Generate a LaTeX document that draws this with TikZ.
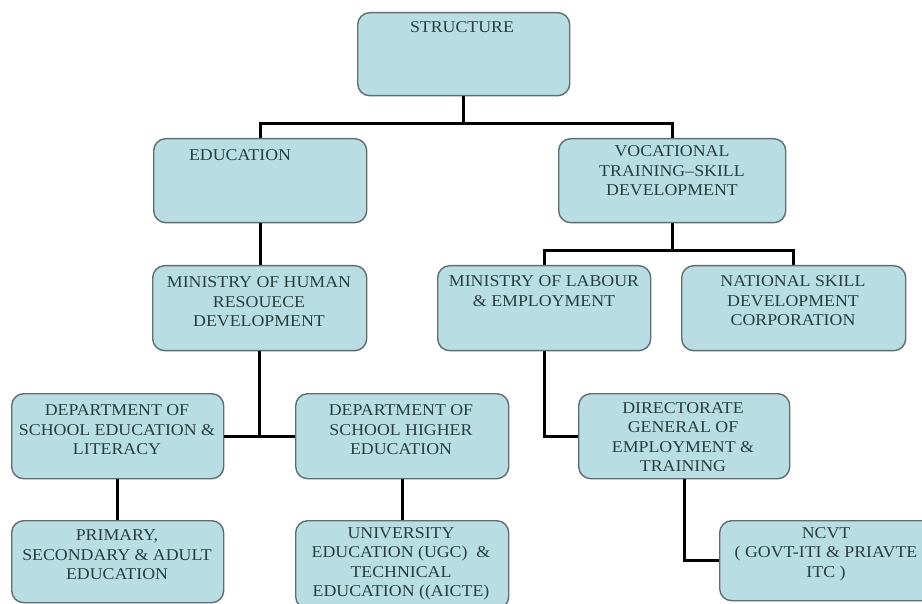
\documentclass[tikz,border=0pt]{standalone}
\usepackage{fontspec}
\setmainfont{Liberation Serif}[FakeStretch=1.08]
\definecolor{boxfill}{RGB}{184,222,228}
\definecolor{boxline}{RGB}{95,110,112}
\definecolor{txtcol}{RGB}{40,62,64}
\begin{document}
\begin{tikzpicture}[x=1pt,y=-1pt,
  box/.style={draw=boxline, line width=1.4pt, fill=boxfill, rounded corners=12pt,
    rectangle, inner sep=0pt, anchor=north west},
  txt/.style={text=txtcol, align=center, inner sep=0pt,
    font=\fontsize{16.5}{19.5}\selectfont},
  conn/.style={draw=black, line width=3pt}]
\useasboundingbox (0,0) rectangle (922,604);
\clip (0,0) rectangle (922,604);
\fill[white] (0,0) rectangle (922,604);

% boxes
\node[box, minimum width=212pt, minimum height=83pt] (struct) at (357,12) {};
\node[box, minimum width=213pt, minimum height=84pt] (edu) at (153,138) {};
\node[box, minimum width=227pt, minimum height=84pt] (voc) at (558,138) {};
\node[box, minimum width=214pt, minimum height=85pt] (mhrd) at (152,265) {};
\node[box, minimum width=213pt, minimum height=85pt] (mle) at (437,265) {};
\node[box, minimum width=224pt, minimum height=85pt] (nsdc) at (681,265) {};
\node[box, minimum width=212pt, minimum height=85pt] (dsel) at (11,393) {};
\node[box, minimum width=213pt, minimum height=85pt] (dshe) at (295,393) {};
\node[box, minimum width=211pt, minimum height=85pt] (dget) at (578,393) {};
\node[box, minimum width=212pt, minimum height=82pt] (prim) at (11,520) {};
\node[box, minimum width=213pt, minimum height=88pt] (univ) at (295,520) {};
\node[box, minimum width=225pt, minimum height=80pt] (ncvt) at (719,520) {};

% texts
\node[txt] (structT) at (462,27) {STRUCTURE};
\node[txt] (eduT) at (240,155) {EDUCATION};
\node[txt] (vocT) at (672,171) {VOCATIONAL\\TRAINING–SKILL\\DEVELOPMENT};
\node[txt] (mhrdT) at (259,302) {MINISTRY OF HUMAN\\RESOUECE\\DEVELOPMENT};
\node[txt] (mleT) at (544,291) {MINISTRY OF LABOUR\\\& EMPLOYMENT};
\node[txt] (nsdcT) at (793,301) {NATIONAL SKILL\\DEVELOPMENT\\CORPORATION};
\node[txt] (dselT) at (117,430) {DEPARTMENT OF\\SCHOOL EDUCATION \&\\LITERACY};
\node[txt] (dsheT) at (401,430) {DEPARTMENT OF\\SCHOOL HIGHER\\EDUCATION};
\node[txt] (dgetT) at (683,437) {DIRECTORATE\\GENERAL OF\\EMPLOYMENT \&\\TRAINING};
\node[txt] (primT) at (117,555) {PRIMARY,\\SECONDARY \& ADULT\\EDUCATION};
\node[txt] (univT) at (401,564) {UNIVERSITY\\EDUCATION (UGC) ~\&\\TECHNICAL\\EDUCATION ((AICTE)};
\node[txt] (ncvtT) at (826,554) {NCVT\\( GOVT-ITI \& PRIAVTE\\ITC )};

% junction levels
\coordinate (j1) at (0,124);
\coordinate (j2) at (0,251);

% connectors
\draw[conn] (struct.south) -- (struct.south |- j1);
\draw[conn] (edu.north) -- (edu.north |- j1) -- (voc.north |- j1) -- (voc.north);
\draw[conn] (edu.south) -- (edu.south |- mhrd.north);
\draw[conn] (voc.south) -- (voc.south |- j2);
\draw[conn] (mle.north) -- (mle.north |- j2) -- (nsdc.north |- j2) -- (nsdc.north);
\draw[conn] (mhrd.south) -- (mhrd.south |- dsel.east);
\draw[conn] (dsel.east) -- (dshe.west);
\draw[conn] (mle.south) |- (dget.west);
\draw[conn] (dsel.south) -- (prim.north);
\draw[conn] (dshe.south) -- (univ.north);
\draw[conn] (dget.south) |- (ncvt.west);
\end{tikzpicture}
\end{document}
